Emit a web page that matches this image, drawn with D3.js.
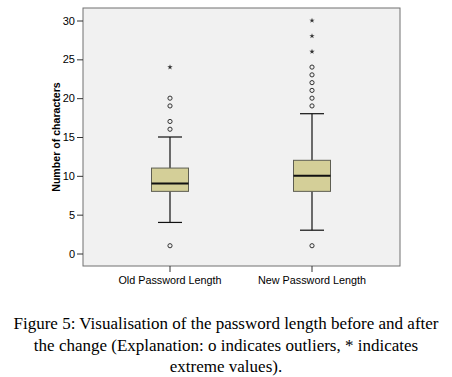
<!DOCTYPE html>
<html lang="en">
<head>
    <meta charset="UTF-8">
    <title>Password length</title>
    <script src="https://d3js.org/d3.v7.min.js"></script>
    <style>
        body { margin: 0; background: #fff; }
        .tick text { font-family: "Liberation Sans", Arial, sans-serif; font-size: 11px; fill: #000; }
    </style>
</head>
<body>
    <div id="chart"></div>
    <script>
        // box plot data
        const categories = ["Old Password Length", "New Password Length"];
        const q1 = [8, 8];
        const median = [9, 10];
        const q3 = [11, 12];
        const whiskerLow = [4, 3];
        const whiskerHigh = [15, 18];
        const outliers = [[1, 16, 17, 19, 20], [1, 19, 20, 21, 22, 23, 24]];
        const extremes = [[24], [26, 28, 30]];
        const yTicks = [0, 5, 10, 15, 20, 25, 30];
        const caption = [
            "Figure 5: Visualisation of the password length before and after",
            "the change (Explanation: o indicates outliers, * indicates",
            "extreme values)."
        ];

        const W = 452, H = 377;
        const svg = d3.select("#chart").append("svg")
            .attr("width", W).attr("height", H);

        const frame = { left: 83, top: 8, right: 400, bottom: 266 };

        const x = d3.scaleBand()
            .domain(categories)
            .range([99, 383]);

        const y = d3.scaleLinear()
            .domain([0, 30])
            .range([253.5, 20.5]);

        // plot background
        svg.append("rect")
            .attr("x", frame.left).attr("y", frame.top)
            .attr("width", frame.right - frame.left)
            .attr("height", frame.bottom - frame.top)
            .attr("fill", "#f1f1f1")
            .attr("stroke", "#707070")
            .attr("stroke-width", 1);

        // y axis
        const yAxis = svg.append("g")
            .attr("transform", "translate(" + frame.left + ",0)")
            .call(d3.axisLeft(y).tickValues(yTicks).tickSize(6).tickPadding(2));
        yAxis.select(".domain").remove();
        yAxis.selectAll(".tick line").attr("stroke", "#333");

        // x axis ticks and labels
        const xAxis = svg.append("g")
            .attr("transform", "translate(0," + frame.bottom + ")")
            .call(d3.axisBottom(x).tickSize(6).tickPadding(4));
        xAxis.select(".domain").remove();
        xAxis.selectAll(".tick line").attr("stroke", "#333");
        xAxis.selectAll(".tick text").style("font-size", "10.8px");

        // y axis title
        svg.append("text")
            .attr("transform", "translate(60,137) rotate(-90)")
            .attr("text-anchor", "middle")
            .style("font-family", "'Liberation Sans', Arial, sans-serif")
            .style("font-size", "10.6px")
            .style("font-weight", "bold")
            .text("Number of characters");

        const boxW = 37, capW = 24;

        categories.forEach(function (c, i) {
            const cx = x(c) + x.bandwidth() / 2;
            const g = svg.append("g");

            // whiskers
            g.append("line")
                .attr("x1", cx).attr("x2", cx)
                .attr("y1", y(whiskerHigh[i])).attr("y2", y(q3[i]))
                .attr("stroke", "#111").attr("stroke-width", 1.2);
            g.append("line")
                .attr("x1", cx).attr("x2", cx)
                .attr("y1", y(q1[i])).attr("y2", y(whiskerLow[i]))
                .attr("stroke", "#111").attr("stroke-width", 1.2);
            [whiskerLow[i], whiskerHigh[i]].forEach(function (v) {
                g.append("line")
                    .attr("x1", cx - capW / 2).attr("x2", cx + capW / 2)
                    .attr("y1", y(v)).attr("y2", y(v))
                    .attr("stroke", "#111").attr("stroke-width", 1.2);
            });

            // box
            g.append("rect")
                .attr("x", cx - boxW / 2)
                .attr("y", y(q3[i]))
                .attr("width", boxW)
                .attr("height", y(q1[i]) - y(q3[i]))
                .attr("fill", "#d4cf98")
                .attr("stroke", "#5e5e52")
                .attr("stroke-width", 1);

            g.append("line")
                .attr("x1", cx - boxW / 2).attr("x2", cx + boxW / 2)
                .attr("y1", y(median[i])).attr("y2", y(median[i]))
                .attr("stroke", "#111").attr("stroke-width", 2);

            // outliers
            g.selectAll(".out")
                .data(outliers[i])
                .enter().append("circle")
                .attr("cx", cx).attr("cy", function (d) { return y(d); })
                .attr("r", 2.1)
                .attr("fill", "none")
                .attr("stroke", "#333")
                .attr("stroke-width", 1);

            // extreme values
            g.selectAll(".ext")
                .data(extremes[i])
                .enter().append("path")
                .attr("d", d3.symbol(d3.symbolStar, 9))
                .attr("transform", function (d) { return "translate(" + cx + "," + y(d) + ")"; })
                .attr("fill", "#333");
        });

        // caption
        svg.append("text")
            .attr("text-anchor", "middle")
            .style("font-family", "'Liberation Serif', 'Times New Roman', serif")
            .style("font-size", "17px")
            .selectAll("tspan")
            .data(caption)
            .enter().append("tspan")
            .attr("x", 226)
            .attr("y", function (d, i) { return 329 + i * 21.5; })
            .text(function (d) { return d; });
    </script>
</body>
</html>
